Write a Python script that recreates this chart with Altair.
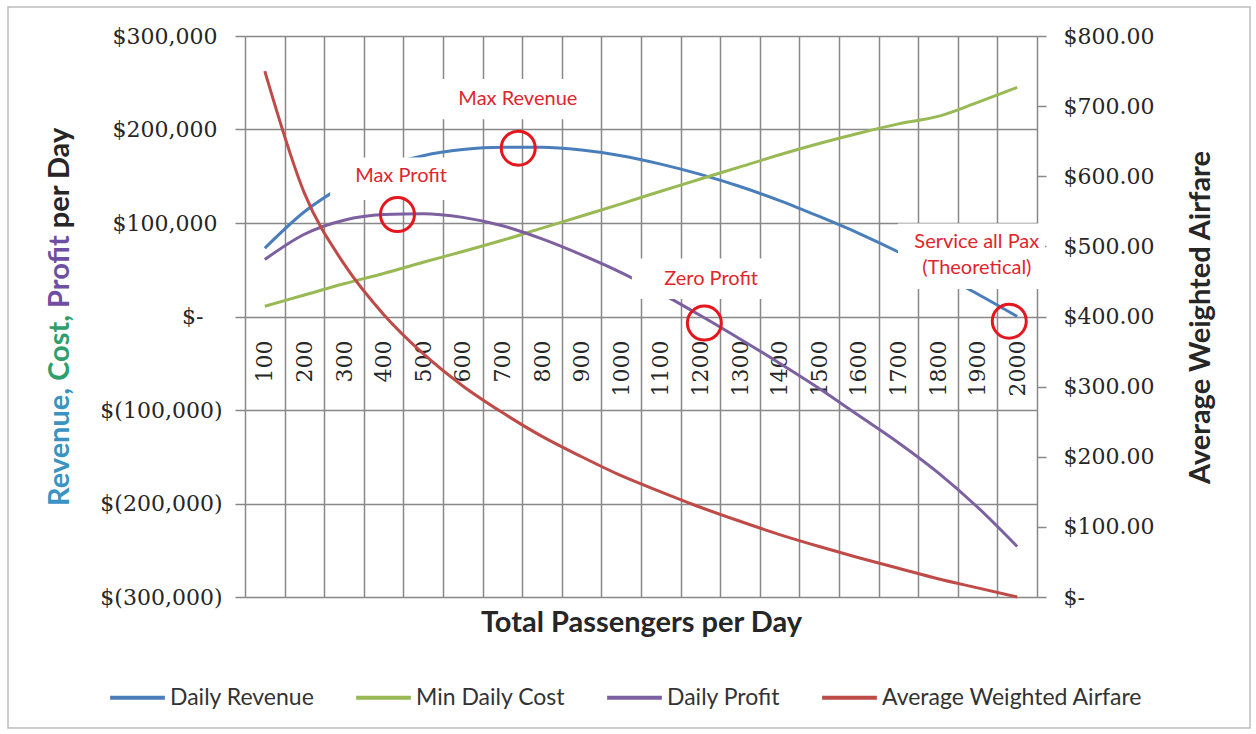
import altair as alt
import pandas as pd

# Passengers per day (category axis)
pax = [100, 200, 300, 400, 500, 600, 700, 800, 900, 1000,
       1100, 1200, 1300, 1400, 1500, 1600, 1700, 1800, 1900, 2000]

# Daily money series (USD)
daily_revenue = [73000, 112000, 140000, 160000, 172000, 178500, 181000, 181000, 178000, 172000,
                 163000, 152000, 139000, 124000, 107000, 89000, 69000, 47000, 24000, 0]
min_daily_cost = [11000, 23000, 35000, 46000, 58000, 69500, 81500, 94500, 107500, 120500,
                  134000, 147000, 160000, 173000, 185000, 196000, 206000, 214000, 229000, 245000]
daily_profit = [61000, 88000, 103000, 109000, 110000, 106000, 97000, 83000, 66000, 47000,
                25000, 1000, -24000, -50000, -77000, -106000, -135000, -167000, -204000, -246000]

# Average weighted airfare (USD, right axis)
avg_weighted_airfare = [750, 576, 475, 403, 347, 301, 263, 229, 200, 173,
                        150, 128, 108, 89, 72, 56, 41, 26, 13, 0]

series_names = ["Daily Revenue", "Min Daily Cost", "Daily Profit", "Average Weighted Airfare"]
series_colors = ["#4A7EBB", "#98B954", "#7D60A0", "#BE4B48"]

# Callouts: label text, label anchor (first line), ring marker and the white label box behind it
callout_labels = ["Max Profit", "Max Revenue", "Zero Profit", "Service all Pax\n(Theoretical)"]
callout_pax = [444, 739, 1227, 1898]
callout_value = [150000, 233000, 40000, 79700]
marker_pax = [435, 740, 1210, 1980]
marker_value = [109000, 180000, -7000, -5000]
box_pax_from = [265, 542, 1027, 1699]
box_pax_to = [600, 939, 1381, 2070]
box_value_from = [124600, 211000, 18700, 29400]
box_value_to = [170000, 254000, 62000, 99500]

money_ticks = [-300000, -200000, -100000, 0, 100000, 200000, 300000]
fare_ticks = [0, 100, 200, 300, 400, 500, 600, 700, 800]
band_edges = [p - 50 for p in pax] + [pax[-1] + 50]

GRID = "#888888"
TEXT = "#262626"
TITLE_SIZE = 29

x_scale = alt.Scale(domain=[band_edges[0], band_edges[-1]], nice=False, zero=False)
money_scale = alt.Scale(domain=[money_ticks[0], money_ticks[-1]], nice=False, zero=False)
fare_scale = alt.Scale(domain=[fare_ticks[0], fare_ticks[-1]], nice=False, zero=False)
color_scale = alt.Scale(domain=series_names, range=series_colors)

money_df = pd.DataFrame({
    "pax": pax * 3,
    "value": daily_revenue + min_daily_cost + daily_profit,
    "series": [series_names[0]] * len(pax) + [series_names[1]] * len(pax) + [series_names[2]] * len(pax),
})
fare_df = pd.DataFrame({"pax": pax, "value": avg_weighted_airfare, "series": series_names[3]})
callout_df = pd.DataFrame({
    "label": callout_labels, "pax": callout_pax, "value": callout_value,
    "mpax": marker_pax, "mvalue": marker_value,
    "x0": box_pax_from, "x1": box_pax_to, "y0": box_value_from, "y1": box_value_to,
})
one_row = pd.DataFrame({"k": [0]})

legend = alt.Legend(
    orient="none", legendX=-137, legendY=632, direction="horizontal", columns=4,
    title=None, symbolType="stroke", symbolSize=3000, symbolStrokeWidth=4,
    labelFont="Lato", labelFontSize=23, labelColor="#333333", labelOffset=3,
    labelLimit=0, columnPadding=33,
)

grid_axis = alt.Axis(
    orient="bottom", values=band_edges, grid=True, gridColor=GRID, gridWidth=1.5,
    labels=False, ticks=False, domain=False,
    title="Total Passengers per Day", titleFont="Lato", titleFontSize=TITLE_SIZE,
    titleFontWeight="bold", titleColor=TEXT, titlePadding=11,
)
label_axis = alt.Axis(
    orient="bottom", values=pax, grid=False, ticks=False, tickSize=0, domain=False,
    offset=-281, labelAngle=270, labelFont="DejaVu Serif", labelFontSize=22,
    labelColor=TEXT, labelPadding=24, labelOverlap=False, labelFlush=False,
    format="d", title=None,
)
# Accounting-style labels: "$-" for zero and parentheses for negatives
money_axis = alt.Axis(
    orient="left", values=money_ticks, grid=True, gridColor=GRID, gridWidth=1.5,
    domain=False, tickSize=10, tickColor=GRID, tickWidth=1.5,
    labelExpr=("datum.value == 0 ? '$-' : datum.value < 0 ? "
               "'$(' + format(-datum.value, ',') + ')' : '$' + format(datum.value, ',')"),
    labelFont="DejaVu Serif", labelFontSize=22, labelColor=TEXT,
    labelPadding={"condition": [{"test": "datum.value == 0", "value": 32},
                                {"test": "datum.value < 0", "value": 13}],
                  "value": 18},
    labelFlush=False, title=None,
)
fare_axis = alt.Axis(
    orient="right", values=fare_ticks, grid=False, domain=False,
    tickSize=9, tickColor=GRID, tickWidth=1.5,
    labelExpr="datum.value == 0 ? '$-' : '$' + format(datum.value, ',.2f')",
    labelFont="DejaVu Serif", labelFontSize=22, labelColor=TEXT, labelPadding=17,
    labelFlush=False,
    title="Average Weighted Airfare", titleFont="Lato", titleFontSize=TITLE_SIZE,
    titleFontWeight="bold", titleColor=TEXT, titleAngle=270, titleX=163, titleY=281,
    titleAlign="center", titleBaseline="middle",
)

border = alt.Chart(one_row).mark_rect(fillOpacity=0, stroke="#BDBDBD", strokeWidth=1.5).encode(
    x=alt.value(-237), x2=alt.value(1005), y=alt.value(-29), y2=alt.value(692)
)

money_lines = alt.Chart(money_df).mark_line(strokeWidth=3, interpolate="monotone").encode(
    x=alt.X("pax:Q", scale=x_scale, axis=grid_axis),
    y=alt.Y("value:Q", scale=money_scale, axis=money_axis),
    color=alt.Color("series:N", scale=color_scale, legend=legend),
)

fare_line = alt.Chart(fare_df).mark_line(strokeWidth=3, interpolate="monotone").encode(
    x=alt.X("pax:Q", scale=x_scale, axis=label_axis),
    y=alt.Y("value:Q", scale=fare_scale, axis=fare_axis),
    color=alt.Color("series:N", scale=color_scale, legend=legend),
)

boxes = alt.Chart(callout_df).mark_rect(color="white").encode(
    x=alt.X("x0:Q", scale=x_scale, axis=None), x2="x1:Q",
    y=alt.Y("y0:Q", scale=money_scale, axis=None), y2="y1:Q",
)

callout_text = alt.Chart(callout_df).mark_text(
    font="Lato", fontSize=20, color="#E0262D", lineBreak="\n", lineHeight=26,
    align="center", baseline="middle",
).encode(
    x=alt.X("pax:Q", scale=x_scale, axis=None),
    y=alt.Y("value:Q", scale=money_scale, axis=None),
    text="label:N",
)

markers = alt.Chart(callout_df).mark_point(
    shape="circle", size=1156, filled=False, color="#E4161E", strokeWidth=3, opacity=1
).encode(
    x=alt.X("mpax:Q", scale=x_scale, axis=None),
    y=alt.Y("mvalue:Q", scale=money_scale, axis=None),
)

# Left axis title with each word in its series colour: the full title is drawn first,
# then each coloured prefix is wiped with white and redrawn on top.
TITLE_X, TITLE_Y = -185, 470
title_parts = [
    ("Revenue, Cost, Profit per Day", TEXT),
    ("Revenue, Cost, Profit", "#6F4FA3"),
    ("Revenue, Cost,", "#2E9E6C"),
    ("Revenue,", "#3A93C2"),
]
title_layers = []
for i, (txt, col) in enumerate(title_parts):
    common = dict(text=txt, angle=270, align="left", baseline="middle",
                  font="Lato", fontSize=TITLE_SIZE, fontWeight="bold")
    if i > 0:
        title_layers.append(
            alt.Chart(one_row).mark_text(fill="white", stroke="white", strokeWidth=3, **common)
            .encode(x=alt.value(TITLE_X), y=alt.value(TITLE_Y))
        )
    title_layers.append(
        alt.Chart(one_row).mark_text(fill=col, **common)
        .encode(x=alt.value(TITLE_X), y=alt.value(TITLE_Y))
    )

chart = (
    alt.layer(border, money_lines, fare_line, boxes, callout_text, markers, *title_layers)
    .resolve_scale(y="independent")
    .resolve_axis(x="independent", y="independent")
    .properties(
        width=792, height=561,
        padding={"left": 245, "top": 36, "right": 219, "bottom": 137},
        autosize=alt.AutoSizeParams(type="none"),
        background="white",
    )
    .configure_view(strokeWidth=0)
)

chart.save("out.html", embed_options={"renderer": "svg", "actions": False})
